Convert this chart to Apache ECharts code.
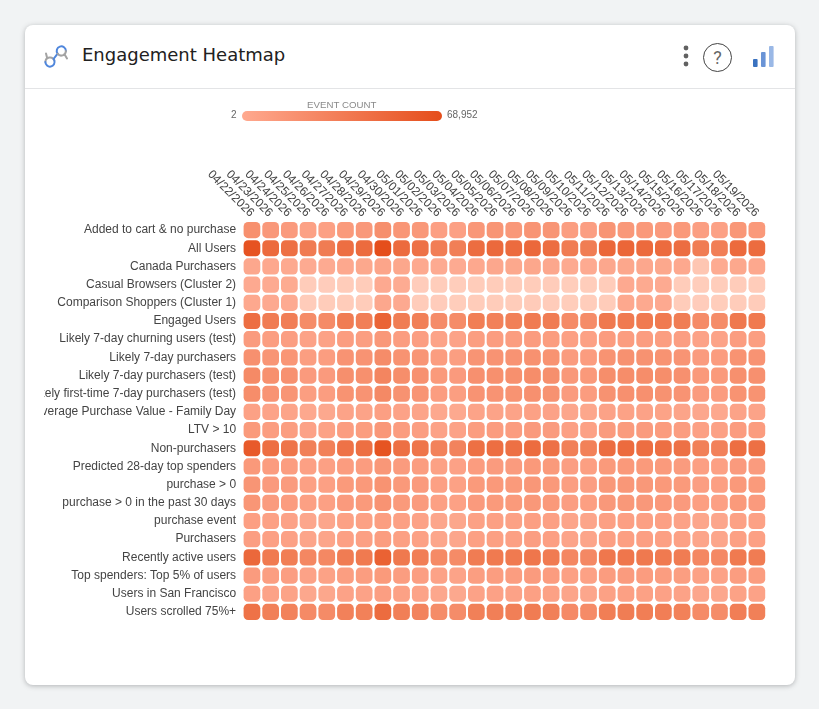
<!DOCTYPE html>
<html>
<head>
<meta charset="utf-8">
<title>Engagement Heatmap</title>
<script src="https://cdn.jsdelivr.net/npm/echarts@6/dist/echarts.min.js"></script>
<style>
  html, body { margin: 0; height: 100%; background: #f1f3f4; overflow: hidden; }
  #card { position: absolute; left: 25px; top: 25px; width: 770px; height: 660px; background: #fff;
          border-radius: 8px; box-shadow: 0 1px 5px rgba(60,64,67,.35); }
  #rule { position: absolute; left: 0; right: 0; top: 63px; height: 1px; background: #e3e4e6; }
  #title { position: absolute; left: 57px; top: 18px; font: 18px "DejaVu Sans", sans-serif; color: #212121;
           line-height: 24px; white-space: nowrap; }
  svg.icon { position: absolute; }
  #help { position: absolute; left: 678px; top: 18px; width: 27px; height: 27px; border: 1px solid #444; border-radius: 50%;
          font: 18px Roboto, sans-serif; color: #666; text-align: center; line-height: 27px; }
  #chart { position: absolute; left: 44px; top: 90px; width: 740px; height: 590px; }
</style>
</head>
<body>
<div id="card">
  <svg class="icon" style="left:18px;top:18px" width="26" height="26" viewBox="0 0 26 26" fill="none" stroke-width="2" stroke-linecap="round">
    <path d="M2.4 19 A4.6 4.6 0 0 1 11.3 17.4 M4 14.6 L3 10.5" stroke="#a3a3a3"/>
    <path d="M11.3 17.4 A4.6 4.6 0 1 1 2.4 19" stroke="#4f86dc"/>
    <path d="M10.5 16 L14.6 10.7 A4.6 4.6 0 1 1 22.9 8" stroke="#4f86dc"/>
    <path d="M22.9 8 A4.6 4.6 0 0 1 14.6 10.7 M21.5 11.3 L24 15.5" stroke="#a3a3a3"/>
  </svg>
  <div id="title">Engagement Heatmap</div>
  <svg class="icon" style="left:657px;top:20px" width="8" height="24" viewBox="0 0 8 24" fill="#616161">
    <circle cx="4" cy="3" r="2.4"/><circle cx="4" cy="11" r="2.4"/><circle cx="4" cy="19" r="2.4"/>
  </svg>
  <div id="help">?</div>
  <svg class="icon" style="left:726px;top:20px" width="26" height="26" viewBox="0 0 26 26">
    <rect x="2" y="14" width="4.6" height="8" rx="1" fill="#3a72c0"/>
    <rect x="10" y="7" width="4.6" height="15" rx="1" fill="#6a94d6"/>
    <rect x="18" y="1" width="4.6" height="21" rx="1" fill="#9ab8e6"/>
  </svg>
  <div id="rule"></div>
</div>
<div id="chart"></div>
<script>
// Reporting days, one column per day
const days = ['04/22/2026','04/23/2026','04/24/2026','04/25/2026','04/26/2026','04/27/2026','04/28/2026',
  '04/29/2026','04/30/2026','05/01/2026','05/02/2026','05/03/2026','05/04/2026','05/05/2026','05/06/2026',
  '05/07/2026','05/08/2026','05/09/2026','05/10/2026','05/11/2026','05/12/2026','05/13/2026','05/14/2026',
  '05/15/2026','05/16/2026','05/17/2026','05/18/2026','05/19/2026'];

// Audience segments, top row first
const audiences = ['Added to cart & no purchase','All Users','Canada Purchasers','Casual Browsers (Cluster 2)',
  'Comparison Shoppers (Cluster 1)','Engaged Users','Likely 7-day churning users (test)','Likely 7-day purchasers',
  'Likely 7-day purchasers (test)','Likely first-time 7-day purchasers (test)','Average Purchase Value - Family Day',
  'LTV > 10','Non-purchasers','Predicted 28-day top spenders','purchase > 0','purchase > 0 in the past 30 days',
  'purchase event','Purchasers','Recently active users','Top spenders: Top 5% of users','Users in San Francisco',
  'Users scrolled 75%+'];

// Daily event counts per audience
const addedToCart = [33100,27800,26500,22500,23000,27000,27800,34000,29500,28000,23500,23000,28500,29800,28000,30500,30000,24500,24000,30500,28200,27500,26500,27500,24000,22500,29000,27500];
const allUsers = [66500,55000,52000,46500,46000,53000,54500,68952,54500,51500,44500,44000,53500,55500,54500,56000,53500,46000,45500,56500,57000,55000,54500,53500,46000,44500,55000,54000];
const canada = [19500,19000,18700,18000,18000,19000,19300,20500,19800,18700,18000,18000,19000,19500,19300,19800,19500,18300,18000,19500,19800,19500,19300,19000,5000,17800,19300,19000];
const casual = [18500,18000,17800,1800,1700,1900,2000,18500,17500,1700,1600,1500,1900,2000,1900,2100,2000,1500,1500,2000,18500,18300,18000,2000,1600,1500,2000,1900];
const comparison = [19000,18500,18000,1900,1800,2000,2100,19500,18500,1800,1700,1600,2000,2100,2000,2200,2100,1600,1600,2100,19000,18800,18500,2100,1700,1600,2100,2000];
const engaged = [53000,46000,44500,36000,36500,46000,44000,58000,45500,43500,35500,36000,45000,42500,43500,46500,46000,36500,36000,47500,47000,47000,47000,45500,36500,36000,47500,47000];
const churning = [26000,24500,24000,22000,22200,24700,24500,28000,25000,24000,21500,21500,24500,25000,25000,25500,25200,23000,22700,25500,25000,24800,24300,24000,21900,21400,24800,24300];
const likelyPurchasers = [33000,30000,29500,24500,24800,31000,31000,35500,31500,30000,25000,24500,30500,31000,31000,32500,31500,26000,25500,31500,32500,32000,31500,30500,26000,25500,31500,31000];
const likelyPurchasersTest = [37000,33500,32500,26500,26500,34000,33500,40000,34500,32500,27000,26500,33000,33500,33500,35000,34000,28000,27500,34500,35000,35000,34500,33000,27500,27000,33500,33000];
const firstTime = [35000,31000,30000,24500,24800,31500,31000,37500,32000,30500,25000,24500,31000,31000,31500,33000,32000,26000,25500,32000,33000,33000,32000,31000,26000,25500,31500,31500];
const avgPurchase = [22500,21500,21000,19000,19200,21500,21500,23500,21800,21000,19000,18800,21500,21500,21500,22500,22000,20000,19700,22000,22200,22000,21700,21000,19500,19000,21500,21500];
const ltv = [27000,25000,24500,22000,22200,25000,25200,28500,25500,24500,22000,21800,25000,25500,25500,26500,26000,23000,22700,26000,26200,26000,25700,25000,22800,22500,25500,25500];
const nonPurchasers = [63000,53000,50000,43500,43000,51000,52500,66000,52000,49500,42000,41500,52000,53000,52000,54000,51500,43500,43000,53500,54500,53000,52500,51500,43500,42500,53000,52000];
const topSpenders28 = [27500,25500,25000,22800,23000,25500,25500,28500,26000,25000,22500,22300,25500,26000,26000,27500,27000,24000,23700,27000,27500,27000,26800,26000,23500,23000,26500,26000];
const purchaseAny = [30000,26500,26000,23000,23000,27000,27500,31500,27500,26500,23000,22500,27000,27500,27000,28500,27500,24500,24000,28000,28500,28000,27500,27000,24000,23500,27500,27000];
const purchase30 = [29500,26000,25500,23000,23000,26500,27000,31000,27000,26000,22800,22500,26500,27000,27000,28000,27500,24000,23700,27800,28000,27800,27200,26500,23700,23200,27000,26500];
const purchaseEvent = [23500,22500,22000,20000,20000,22500,22500,24500,23000,22000,20000,19800,22500,23000,22500,23500,23000,20800,20500,23000,23500,23000,22800,22000,20300,20000,22500,22500];
const purchasers = [24000,22800,22500,20500,20500,23000,23000,25000,23300,22500,20300,20000,23000,23300,23000,24000,23500,21000,20800,23500,23800,23500,23000,22500,20500,20200,23000,22800];
const recentlyActive = [56000,47000,45000,39000,38500,46000,47000,59000,47500,44500,37000,36500,46000,47000,47000,49000,46500,39000,38000,48500,49000,47500,47000,46000,39000,38000,47000,46000];
const top5Percent = [26000,24500,24000,22000,22200,24500,24800,27000,25000,24000,21800,21500,24500,25000,25000,26000,25500,23000,22700,25500,26000,25500,25000,24500,22500,22000,25000,24800];
const sanFrancisco = [23000,22000,21700,19500,19800,22000,22000,24000,22500,21500,19500,19200,22000,22300,22000,23000,22500,20500,20000,22500,23000,22500,22300,21800,20000,19500,22200,22000];
const scrolled = [51000,43500,42000,37000,36500,42500,43000,54000,44000,41500,36000,35500,43500,44000,44000,46000,43500,37000,36500,45000,45500,45000,44500,43000,36500,35500,44500,43500];

const rows = [addedToCart, allUsers, canada, casual, comparison, engaged, churning, likelyPurchasers,
  likelyPurchasersTest, firstTime, avgPurchase, ltv, nonPurchasers, topSpenders28, purchaseAny, purchase30,
  purchaseEvent, purchasers, recentlyActive, top5Percent, sanFrancisco, scrolled];

const legendMin = 2;
const legendMax = 68952;

const cells = [];
rows.forEach((values, r) => values.forEach((v, c) => cells.push([c, r, v])));

const chart = echarts.init(document.getElementById('chart'), null, { renderer: 'canvas' });
chart.setOption({
  animation: false,
  textStyle: { fontFamily: '"Liberation Sans", Arial, sans-serif' },
  grid: { left: 198.6, top: 131, width: 523.6, height: 400, outerBoundsMode: 'none', containLabel: false },
  xAxis: {
    type: 'category', position: 'top', data: days,
    axisLine: { show: false }, axisTick: { show: false }, splitLine: { show: false },
    axisLabel: { rotate: 45, interval: 0, fontSize: 12, color: '#444', margin: 6, hideOverlap: false, padding: [0, 0, 8, 0] }
  },
  yAxis: {
    type: 'category', inverse: true, data: audiences,
    axisLine: { show: false }, axisTick: { show: false }, splitLine: { show: false },
    axisLabel: { interval: 0, fontSize: 12, color: '#444', margin: 6.5, padding: [2, 0, 0, 0] }
  },
  visualMap: {
    show: false, type: 'continuous', dimension: 2, min: legendMin, max: legendMax,
    inRange: { color: ['#ffd0bf', '#fca084', '#f07c53', '#e54e1b'] }
  },
  series: [{
    type: 'custom', data: cells, encode: { x: 0, y: 1 },
    renderItem(params, api) {
      const centre = api.coord([api.value(0), api.value(1)]);
      const band = api.size([1, 1]);
      const w = band[0] - 2, h = band[1] - 2;
      return {
        type: 'rect',
        shape: { x: centre[0] - w / 2, y: centre[1] - h / 2, width: w, height: h, r: 4.5 },
        style: { fill: api.visual('color') }
      };
    }
  }],
  graphic: [
    { type: 'rect', left: 198, top: 21, shape: { width: 200, height: 10, r: 5 },
      style: { fill: new echarts.graphic.LinearGradient(0, 0, 1, 0, [
        { offset: 0, color: '#ffa98f' }, { offset: 1, color: '#e54e1b' }]) } },
    { type: 'text', left: 263, top: 10, style: { text: 'EVENT COUNT', font: '9.7px "Liberation Sans", sans-serif', fill: '#8a8a8a' } },
    { type: 'text', left: 187, top: 20.5, style: { text: String(legendMin), font: '10px "Liberation Sans", sans-serif', fill: '#666' } },
    { type: 'text', left: 403, top: 20.5, style: { text: legendMax.toLocaleString('en-US'), font: '10px "Liberation Sans", sans-serif', fill: '#666' } }
  ]
});
</script>
</body>
</html>
